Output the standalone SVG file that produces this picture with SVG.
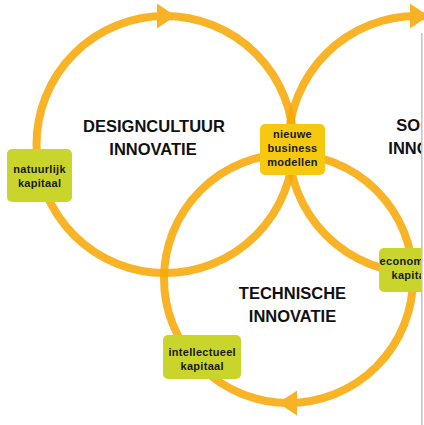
<svg xmlns="http://www.w3.org/2000/svg" width="424" height="425" viewBox="0 0 424 425">
<defs>
<style>
.ring{fill:none;stroke:#F7A700;stroke-opacity:0.85;stroke-width:8}
.arrow{fill:#F8B226;stroke:none}
.box-green{fill:#C9D52B}
.box-gold{fill:#F6C80F}
.lbl{font-family:"Liberation Sans",Arial,sans-serif;font-weight:bold;font-size:11px;letter-spacing:0.3px;fill:#1a1a1a;text-anchor:middle}
.title{font-family:"Liberation Sans",Arial,sans-serif;font-weight:bold;font-size:16.5px;fill:#111;text-anchor:middle}
</style>
<clipPath id="page"><rect x="0" y="0" width="421" height="425"/></clipPath>
</defs>
<rect width="424" height="425" fill="#fff"/>
<g id="connectors">
<circle class="ring" cx="165" cy="144.5" r="128.5"/>
<circle class="ring" cx="417" cy="144.5" r="128.5"/>
<circle class="ring" cx="288.5" cy="278.5" r="124.5"/>
<polygon class="arrow" points="157,3.5 175.5,16 157,28.5"/>
<polygon class="arrow" points="410,3.5 428.5,16 410,28.5"/>
<polygon class="arrow" points="297,390.5 278,403 297,415.5"/>
</g>
<g id="title-designcultuur">
<text class="title" x="154" y="131.5">DESIGNCULTUUR</text>
<text class="title" x="153" y="155">INNOVATIE</text>
</g>
<g id="title-sociale" clip-path="url(#page)">
<text class="title" x="433" y="131">SOCIALE</text>
<text class="title" x="432" y="153.5">INNOVATIE</text>
</g>
<g id="title-technische">
<text class="title" x="292.5" y="299">TECHNISCHE</text>
<text class="title" x="292.5" y="322">INNOVATIE</text>
</g>
<g id="node-nieuwe-business-modellen">
<rect class="box-gold" x="260" y="124" width="65" height="51" rx="5"/>
<text class="lbl" x="292.5" y="137.5">nieuwe</text>
<text class="lbl" x="292.5" y="151.5">business</text>
<text class="lbl" x="292.5" y="166">modellen</text>
</g>
<g id="node-natuurlijk-kapitaal">
<rect class="box-green" x="7" y="149" width="65" height="53" rx="5"/>
<text class="lbl" x="39.6" y="173">natuurlijk</text>
<text class="lbl" x="39.6" y="186.5">kapitaal</text>
</g>
<g id="node-intellectueel-kapitaal">
<rect class="box-green" x="163" y="335" width="78" height="44" rx="5"/>
<text class="lbl" x="202.2" y="355.5">intellectueel</text>
<text class="lbl" x="202.2" y="369.5">kapitaal</text>
</g>
<g id="node-economisch-kapitaal" clip-path="url(#page)">
<rect class="box-green" x="379" y="248" width="68" height="44" rx="5"/>
<text class="lbl" x="413.2" y="265">economisch</text>
<text class="lbl" x="413.2" y="279">kapitaal</text>
</g>
<g id="page-edge">
<rect x="421" y="33" width="3" height="392" fill="#fff"/>
<line x1="421.8" y1="33" x2="421.8" y2="425" stroke="#c4c4c4" stroke-width="1.6"/>
</g>
</svg>
